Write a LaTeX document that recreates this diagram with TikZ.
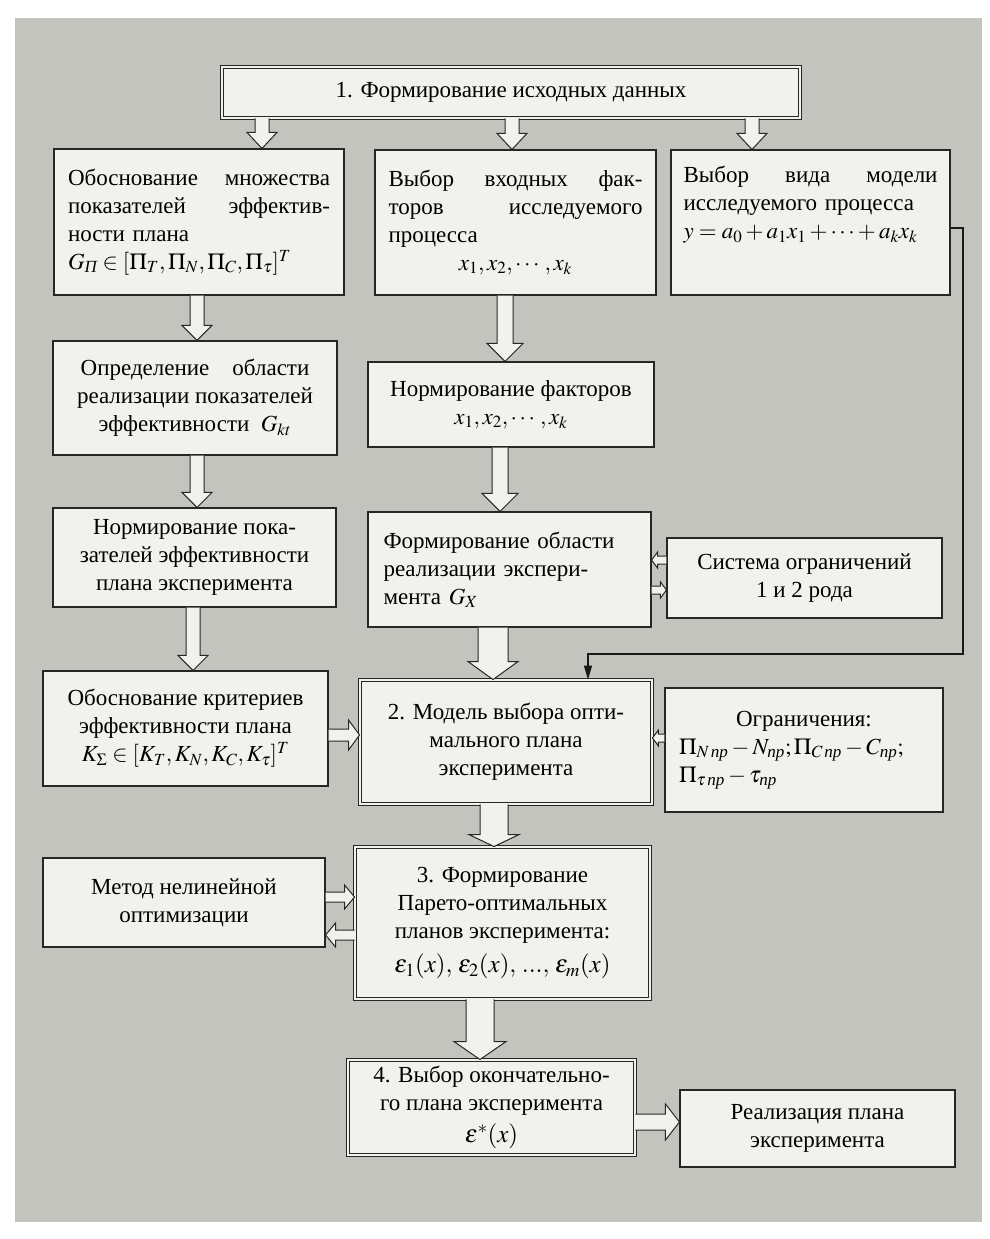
\documentclass[tikz,border=0pt]{standalone}
\usepackage{amsmath}
\usepackage{mathptmx}
\usepackage{fontspec}
\setmainfont{Liberation Serif}
\usetikzlibrary{calc,arrows.meta}
\definecolor{bg}{RGB}{196,196,190}
\definecolor{boxfill}{RGB}{241,241,237}
\newcommand\npr{\text{\itshape пр}}
\newcommand\darr[5]{\draw[arr] let \p1=(#1), \p2=(#2) in (\x1-#3,\y1) -- (\x1-#3,\y2+#5) -- (\x1-#4,\y2+#5) -- (\x1,\y2) -- (\x1+#4,\y2+#5) -- (\x1+#3,\y2+#5) -- (\x1+#3,\y1);}
\newcommand\rarr[5]{\draw[arr] let \p1=(#1), \p2=(#2) in (\x1,\y1+#3) -- (\x2-#5,\y1+#3) -- (\x2-#5,\y1+#4) -- (\x2,\y1) -- (\x2-#5,\y1-#4) -- (\x2-#5,\y1-#3) -- (\x1,\y1-#3);}
\newcommand\larr[5]{\draw[arr] let \p1=(#1), \p2=(#2) in (\x1,\y1+#3) -- (\x2+#5,\y1+#3) -- (\x2+#5,\y1+#4) -- (\x2,\y1) -- (\x2+#5,\y1-#4) -- (\x2+#5,\y1-#3) -- (\x1,\y1-#3);}
\tikzset{
  box/.style={draw=black!85, line width=1.1pt, fill=boxfill, inner sep=0pt, align=center,
    font=\fontsize{23}{28}\selectfont},
  dbox/.style={box, line width=0.9pt, double=boxfill, double distance=2.6pt},
  sz/.style 2 args={minimum width=#1pt, minimum height=#2pt},
  arr/.style={draw=black!85, line width=1pt, fill=boxfill},
  link/.style={draw=black!90, line width=1.3pt, -{Triangle[length=14pt,width=8pt]}}
}
\begin{document}
\begin{tikzpicture}[x=1pt,y=-1pt]
\useasboundingbox (0,0) rectangle (989,1239);
\fill[bg] (15,18) rectangle (982,1222);

\node[dbox, sz={578}{51}] (top) at (511,92.5) {1. Формирование исходных данных};

\node[box, sz={290}{146}, text width=262pt, align=left] (A1) at (199,222)
  {Обоснование\hfill множества\\ показателей\hfill эффектив-\\ ности плана\\
   $G_{\text{\itshape П}}\in[\Pi_T,\Pi_N,\Pi_C,\Pi_\tau]^T$};
\node[box, sz={281}{145}, text width=254pt, align=left] (B1) at (515.5,222.5)
  {Выбор\hfill входных\hfill фак-\\ торов\hfill исследуемого\\ процесса\\
   \makebox[254pt][c]{$x_1,x_2,\cdots,x_k$}};
\node[box, sz={279}{145}, text width=254pt, align=left] (C1) at (810.5,222.5)
  {Выбор\hfill вида\hfill модели\\ исследуемого процесса\\
   $y=a_0+a_1x_1+\cdots+a_kx_k$\\[12pt]\mbox{}};

\node[box, sz={284}{114}] (A2) at (195,398)
  {Определение\quad области\\ реализации показателей\\ эффективности\ \ $G_{kt}$};
\node[box, sz={283}{99}] (A3) at (194.5,557.5)
  {Нормирование пока-\\ зателей эффективности\\ плана эксперимента};
\node[box, sz={285}{115}] (A4) at (185.5,728.5)
  {Обоснование критериев\\ эффективности плана\\ $K_\Sigma\in[K_T,K_N,K_C,K_\tau]^T$};

\node[box, sz={286}{85}] (B2) at (511,404.5)
  {Нормирование факторов\\ $x_1,x_2,\cdots,x_k$};
\node[box, sz={283}{115}, text width=252pt, align=left] (B3) at (509.5,569.5)
  {Формирование области\\ реализации экспери-\\ мента $G_X$};
\node[box, sz={275}{80}] (C2) at (804.5,578)
  {Система ограничений\\ 1 и 2 рода};

\node[dbox, sz={292}{124}] (M2) at (506,742)
  {2. Модель выбора опти-\\ мального плана\\ эксперимента};
\node[box, sz={278}{124}, text width=250pt, align=left] (C3) at (804,750)
  {\makebox[250pt][c]{Ограничения:}\\
   $\Pi_{N\,\npr}-N_{\npr};\Pi_{C\,\npr}-C_{\npr};$\\
   $\Pi_{\tau\,\npr}-\tau_{\npr}$};

\node[box, sz={282}{89}] (L) at (184,902.5)
  {Метод нелинейной\\ оптимизации};
\node[dbox, sz={295}{152}] (M3) at (502.5,923)
  {3. Формирование\\ Парето-оптимальных\\ планов эксперимента:\\[6pt]
   {\fontsize{25}{30}\selectfont$\varepsilon_1(x),\,\varepsilon_2(x),\,...,\,\varepsilon_m(x)$}};
\node[dbox, sz={287}{95}] (M4) at (491.5,1107.5)
  {4. Выбор окончательно-\\ го плана эксперимента\\[4pt] {\fontsize{25}{30}\selectfont$\varepsilon^*(x)$}};
\node[box, sz={275}{77}] (R) at (817.5,1128.5)
  {Реализация плана\\ эксперимента};

% hollow arrows
\darr{top.south -| 262,0}{A1.north -| 262,0}{7pt}{15pt}{16pt}
\darr{top.south -| 512,0}{B1.north -| 512,0}{7pt}{15pt}{16pt}
\darr{top.south -| 752,0}{C1.north -| 752,0}{7pt}{15pt}{16pt}
\darr{A1.south -| 197,0}{A2.north -| 197,0}{7pt}{15pt}{15pt}
\darr{A2.south -| 197,0}{A3.north -| 197,0}{7pt}{15pt}{15pt}
\darr{A3.south -| 193,0}{A4.north -| 193,0}{7pt}{15pt}{15pt}
\darr{B1.south -| 505,0}{B2.north -| 505,0}{8pt}{18pt}{18pt}
\darr{B2.south -| 500,0}{B3.north -| 500,0}{8pt}{18pt}{18pt}
\darr{B3.south -| 493,0}{M2.north -| 493,0}{15pt}{25pt}{18pt}
\darr{M2.south -| 494,0}{M3.north -| 494,0}{14pt}{25pt}{12pt}
\darr{M3.south -| 480,0}{M4.north -| 480,0}{14pt}{26pt}{18pt}

\rarr{A4.east |- 0,735}{M2.west |- 0,735}{6pt}{15pt}{11pt}
\larr{C3.west |- 0,738}{M2.east |- 0,738}{4pt}{8pt}{6pt}
\larr{C2.west |- 0,560}{B3.east |- 0,560}{4pt}{8pt}{6pt}
\rarr{B3.east |- 0,590}{C2.west |- 0,590}{4pt}{8pt}{6pt}
\rarr{L.east |- 0,897}{M3.west |- 0,897}{5pt}{12pt}{10pt}
\larr{M3.west |- 0,935}{L.east |- 0,935}{5pt}{12pt}{10pt}
\rarr{M4.east |- 0,1122}{R.west |- 0,1122}{8pt}{18pt}{14pt}

% connector from model choice to model 2
\coordinate (cr) at (963,654);
\draw[link] (C1.east |- 0,228) -- (cr |- 0,228) -- (cr) -- (588,654) -- (M2.north -| 588,0);
\end{tikzpicture}
\end{document}
